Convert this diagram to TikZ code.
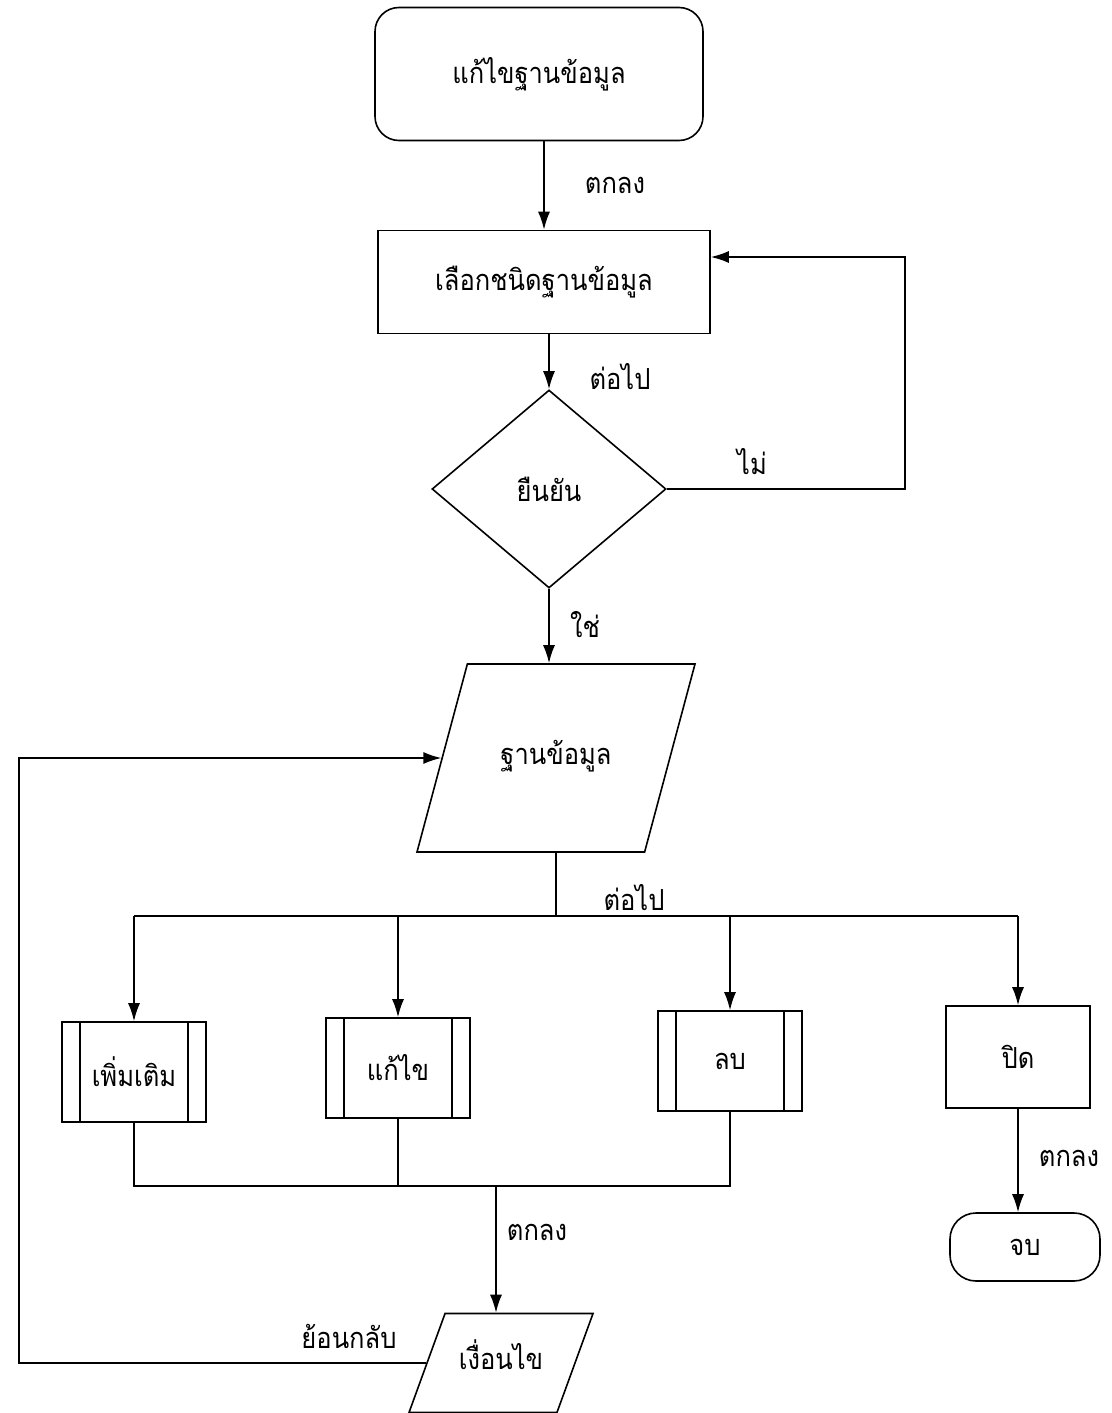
\documentclass[tikz,border=0pt]{standalone}
\usepackage{fontspec}
\usetikzlibrary{shapes.geometric, arrows.meta}
\newfontfamily\thaifont[Script=Thai, FakeStretch=0.88]{Loma}
\tikzset{>={Latex[length=18pt,width=12pt]}}
\tikzset{
  every node/.style={font=\thaifont\fontsize{29}{34}\selectfont},
  flow/.style={draw, line width=1.6pt, inner sep=0pt},
  startbox/.style={flow, rounded corners=24pt, minimum width=328pt, minimum height=133pt},
  endbox/.style={flow, rounded corners=26pt, minimum width=150pt, minimum height=68pt},
  procbox/.style={flow, minimum width=144pt, minimum height=102pt},
  decide/.style={flow, diamond, minimum width=234pt, minimum height=198pt},
  iobox/.style={flow, trapezium, trapezium stretches body=true, text height=20pt, text depth=8pt},
  subproc/.style={flow, minimum width=144pt, minimum height=100pt,
    path picture={\draw[line width=1.6pt]
      ([xshift=18pt]path picture bounding box.north west) -- ([xshift=18pt]path picture bounding box.south west)
      ([xshift=-18pt]path picture bounding box.north east) -- ([xshift=-18pt]path picture bounding box.south east);}}
}
\begin{document}
\begin{tikzpicture}[x=1pt, y=-1pt, line width=1.6pt]
\useasboundingbox (0,0) rectangle (1111,1413);
\clip (0,0) rectangle (1111,1413);

% boxes
\node[startbox] (start) at (539,74) {แก้ไขฐานข้อมูล};
\node[procbox, minimum width=332pt, minimum height=103pt] (choose) at (544,282) {เลือกชนิดฐานข้อมูล};
\node[decide] (confirm) at (549,489) {ยืนยัน};
\node[iobox, trapezium left angle=75, trapezium right angle=105,
  inner ysep=80pt, minimum width=278pt] (db) at (556,758) {ฐานข้อมูล};
\node[subproc] (add) at (134,1072) {เพิ่มเติม};
\node[subproc] (edit) at (398,1068) {แก้ไข};
\node[subproc] (del) at (730,1061) {ลบ};
\node[procbox] (close) at (1018,1057) {ปิด};
\node[endbox] (end) at (1025,1247) {จบ};
\node[iobox, trapezium left angle=70, trapezium right angle=110,
  inner ysep=35.5pt, minimum width=184pt] (cond) at (501,1363) {เงื่อนไข};

\coordinate (loopline) at (905,0);
\coordinate (backline) at (19,0);
\coordinate (bus) at (556,916);
\coordinate (join) at (496,1186);

% connectors
\draw[->] (choose.north |- start.south) -- (choose.north);
\draw[->] (confirm.north |- choose.south) -- (confirm.north);
\draw[->] (confirm.east) -- (loopline |- confirm.east) |- ([yshift=25pt]choose.east);
\draw[->] (confirm.south) -- (confirm.south |- db.north);
\draw (db.south) -- (bus);
\draw (add.north |- bus) -- (close.north |- bus);
\foreach \n in {add,edit,del,close}
\draw[->] (\n.north |- bus) -- (\n.north);
\draw (add.south) -- (add.south |- join) -- (del.south |- join) -- (del.south);
\draw (edit.south) -- (edit.south |- join);
\draw[->] (join) -- (join |- cond.north);
\draw[->] (close.south) -- (close.south |- end.north);
\draw[->] (cond.west) -- (backline |- cond.west) |- (db.west);

% labels
\node (okA) at (615,185) {ตกลง};
\node (nextA) at (620,377) {ต่อไป};
\node (no) at (752,462) {ไม่};
\node (yes) at (585,625) {ใช่};
\node (nextB) at (634,898) {ต่อไป};
\node (okB) at (1069,1158) {ตกลง};
\node (okC) at (537,1232) {ตกลง};
\node (back) at (349,1336) {ย้อนกลับ};
\end{tikzpicture}
\end{document}
